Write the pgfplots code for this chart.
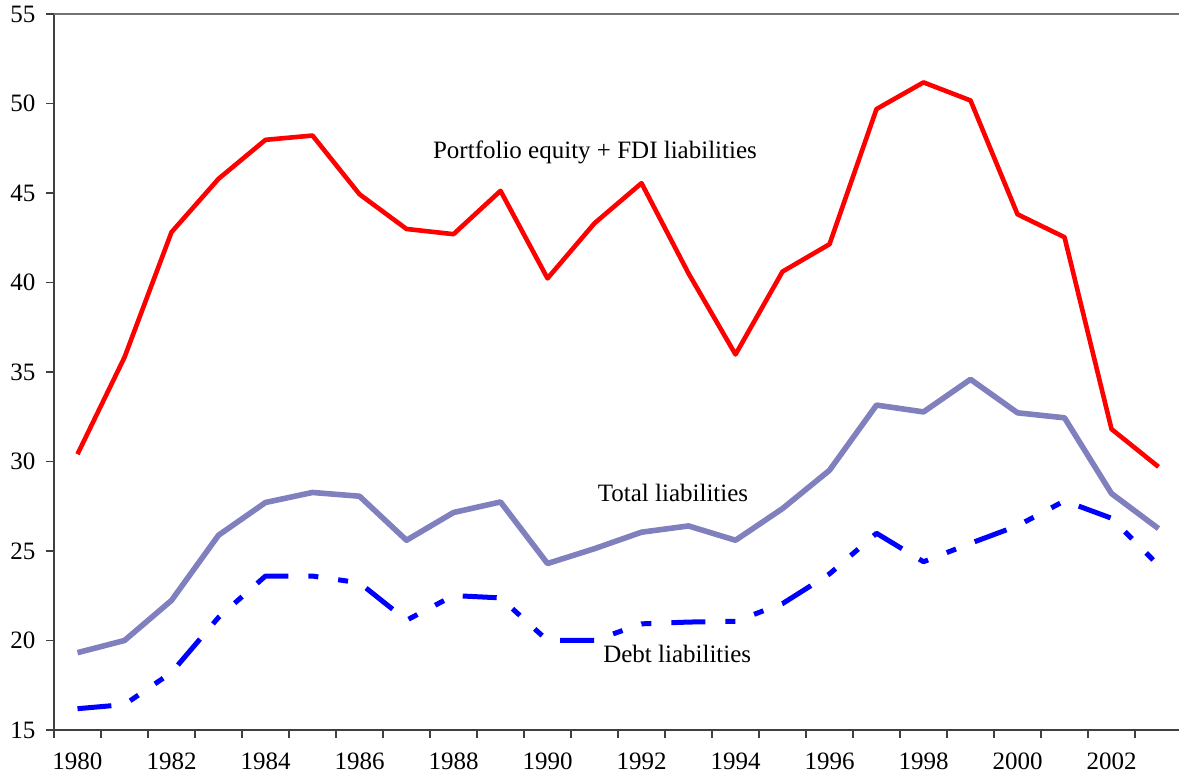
\documentclass[border=0pt]{standalone}
\usepackage{pgfplots}
\pgfplotsset{compat=1.18}
\usepackage{fontspec}
\setmainfont{Liberation Serif}
\definecolor{totcol}{RGB}{128,128,190}
\definecolor{debtcol}{RGB}{0,0,255}
\definecolor{eqcol}{RGB}{255,0,0}
\begin{document}
\fontsize{12.5}{15}\selectfont
\begin{tikzpicture}
\useasboundingbox (0,0) rectangle (589.5pt,390.5pt);
\begin{axis}[
  at={(27pt,25.5pt)}, anchor=south west,
  scale only axis, width=562.5pt, height=358pt,
  xmin=1979.5, xmax=2003.436, ymin=15, ymax=55,
  axis x line*=bottom, axis y line*=left,
  axis line style={line width=0.8pt, black!75, -},
  xtick={1980,1982,...,2002},
  xticklabels={1980,1982,1984,1986,1988,1990,1992,1994,1996,1998,2000,2002},
  major x tick style={draw=none},
  minor xtick={1979.5,1980.5,...,2003.5},
  minor tick length=4pt,
  ytick={15,20,...,55},
  major tick length=4pt,
  tick align=outside,
  tick style={line width=0.8pt, black!75},
  /pgf/number format/assume math mode=true,
  ticklabel style={font=\fontsize{12.5}{15}\selectfont},
  yticklabel style={xshift=-1pt},
  xticklabel style={yshift=-3pt},
  clip=false,
]
\draw[line width=0.8pt, black!55] (rel axis cs:0,1) -- (rel axis cs:1,1);
\addplot[color=totcol, line width=2.8pt, line join=round] coordinates {
(1980,19.32) (1981,20.0) (1982,22.24) (1983,25.88) (1984,27.71) (1985,28.27)
(1986,28.06) (1987,25.6) (1988,27.15) (1989,27.74) (1990,24.3) (1991,25.13)
(1992,26.05) (1993,26.4) (1994,25.6) (1995,27.37) (1996,29.51) (1997,33.15)
(1998,32.77) (1999,34.59) (2000,32.72) (2001,32.44) (2002,28.21) (2003,26.25)};
\addplot[color=debtcol, line width=2.5pt, line cap=butt, line join=round,
  dash pattern=on 17pt off 10pt on 5pt off 10pt on 5pt off 10pt] coordinates {
(1980,16.19) (1981,16.42) (1982,18.21) (1983,21.29) (1984,23.6) (1985,23.6)
(1986,23.22) (1987,21.13) (1988,22.51) (1989,22.38) (1990,20.0) (1991,20.0)
(1992,20.93) (1993,21.03) (1994,21.07) (1995,22.06) (1996,23.72) (1997,25.99)
(1998,24.4) (1999,25.43) (2000,26.41) (2001,27.8) (2002,26.83) (2003,24.2)};
\addplot[color=eqcol, line width=2.3pt, line join=round] coordinates {
(1980,30.41) (1981,35.82) (1982,42.81) (1983,45.79) (1984,47.97) (1985,48.21)
(1986,44.93) (1987,42.99) (1988,42.7) (1989,45.12) (1990,40.23) (1991,43.31)
(1992,45.55) (1993,40.51) (1994,35.98) (1995,40.61) (1996,42.14) (1997,49.69)
(1998,51.18) (1999,50.17) (2000,43.81) (2001,42.53) (2002,31.81) (2003,29.70)};
\node[font=\fontsize{12.5}{15}\selectfont] at (axis cs:1991.01,47.29) {Portfolio equity + FDI liabilities};
\node[font=\fontsize{12.5}{15}\selectfont] at (axis cs:1992.67,28.24) {Total liabilities};
\node[font=\fontsize{12.5}{15}\selectfont] at (axis cs:1992.76,19.25) {Debt liabilities};
\end{axis}
\end{tikzpicture}
\end{document}
